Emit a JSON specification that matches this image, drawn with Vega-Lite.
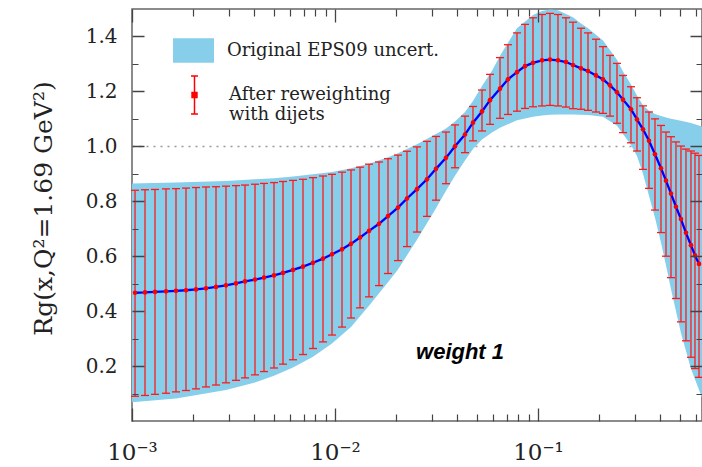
{
  "$schema": "https://vega.github.io/schema/vega-lite/v6.json",
  "width": 570,
  "height": 412,
  "autosize": {"type": "none"},
  "padding": {"left": 132, "top": 9, "right": 0, "bottom": 46},
  "background": "white",
  "config": {
    "view": {"stroke": "#666", "strokeWidth": 1.5},
    "axis": {"grid": false, "domain": false, "ticks": false, "labelFont": "DejaVu Serif", "labelColor": "#222", "titleFont": "DejaVu Serif", "titleColor": "#222"}
  },
  "data": {"values": [
      {"x": 0.001035, "c": 0.467, "hi": 0.840, "lo": 0.090},
      {"x": 0.001159, "c": 0.468, "hi": 0.842, "lo": 0.093},
      {"x": 0.001298, "c": 0.470, "hi": 0.843, "lo": 0.097},
      {"x": 0.001471, "c": 0.472, "hi": 0.845, "lo": 0.101},
      {"x": 0.001647, "c": 0.474, "hi": 0.846, "lo": 0.106},
      {"x": 0.001845, "c": 0.476, "hi": 0.848, "lo": 0.111},
      {"x": 0.002067, "c": 0.479, "hi": 0.850, "lo": 0.117},
      {"x": 0.002315, "c": 0.483, "hi": 0.852, "lo": 0.124},
      {"x": 0.002593, "c": 0.488, "hi": 0.853, "lo": 0.131},
      {"x": 0.002904, "c": 0.494, "hi": 0.855, "lo": 0.139},
      {"x": 0.003253, "c": 0.501, "hi": 0.857, "lo": 0.148},
      {"x": 0.003603, "c": 0.508, "hi": 0.859, "lo": 0.157},
      {"x": 0.004036, "c": 0.515, "hi": 0.862, "lo": 0.168},
      {"x": 0.004470, "c": 0.522, "hi": 0.865, "lo": 0.180},
      {"x": 0.005006, "c": 0.530, "hi": 0.868, "lo": 0.193},
      {"x": 0.005545, "c": 0.539, "hi": 0.872, "lo": 0.207},
      {"x": 0.006211, "c": 0.550, "hi": 0.876, "lo": 0.223},
      {"x": 0.006956, "c": 0.562, "hi": 0.880, "lo": 0.242},
      {"x": 0.007793, "c": 0.576, "hi": 0.886, "lo": 0.264},
      {"x": 0.008728, "c": 0.591, "hi": 0.892, "lo": 0.288},
      {"x": 0.009665, "c": 0.607, "hi": 0.898, "lo": 0.313},
      {"x": 0.010827, "c": 0.625, "hi": 0.906, "lo": 0.342},
      {"x": 0.011992, "c": 0.645, "hi": 0.914, "lo": 0.375},
      {"x": 0.013281, "c": 0.668, "hi": 0.924, "lo": 0.412},
      {"x": 0.014707, "c": 0.692, "hi": 0.935, "lo": 0.452},
      {"x": 0.016473, "c": 0.718, "hi": 0.943, "lo": 0.493},
      {"x": 0.018243, "c": 0.746, "hi": 0.955, "lo": 0.537},
      {"x": 0.020431, "c": 0.777, "hi": 0.968, "lo": 0.584},
      {"x": 0.022627, "c": 0.810, "hi": 0.982, "lo": 0.635},
      {"x": 0.025345, "c": 0.844, "hi": 0.998, "lo": 0.688},
      {"x": 0.028389, "c": 0.880, "hi": 1.018, "lo": 0.745},
      {"x": 0.031444, "c": 0.918, "hi": 1.036, "lo": 0.804},
      {"x": 0.035223, "c": 0.958, "hi": 1.052, "lo": 0.864},
      {"x": 0.039010, "c": 1.000, "hi": 1.078, "lo": 0.922},
      {"x": 0.043697, "c": 1.043, "hi": 1.110, "lo": 0.977},
      {"x": 0.047833, "c": 1.086, "hi": 1.145, "lo": 1.020},
      {"x": 0.052990, "c": 1.127, "hi": 1.205, "lo": 1.056},
      {"x": 0.058004, "c": 1.168, "hi": 1.262, "lo": 1.080},
      {"x": 0.065003, "c": 1.210, "hi": 1.323, "lo": 1.102},
      {"x": 0.071148, "c": 1.244, "hi": 1.370, "lo": 1.116},
      {"x": 0.078806, "c": 1.270, "hi": 1.413, "lo": 1.128},
      {"x": 0.086290, "c": 1.292, "hi": 1.444, "lo": 1.138},
      {"x": 0.094484, "c": 1.304, "hi": 1.468, "lo": 1.144},
      {"x": 0.10464, "c": 1.313, "hi": 1.480, "lo": 1.147},
      {"x": 0.11458, "c": 1.316, "hi": 1.484, "lo": 1.149},
      {"x": 0.12546, "c": 1.313, "hi": 1.480, "lo": 1.147},
      {"x": 0.13735, "c": 1.307, "hi": 1.468, "lo": 1.143},
      {"x": 0.14872, "c": 1.296, "hi": 1.452, "lo": 1.137},
      {"x": 0.16285, "c": 1.284, "hi": 1.430, "lo": 1.135},
      {"x": 0.17635, "c": 1.274, "hi": 1.413, "lo": 1.131},
      {"x": 0.19307, "c": 1.258, "hi": 1.390, "lo": 1.125},
      {"x": 0.20907, "c": 1.244, "hi": 1.363, "lo": 1.120},
      {"x": 0.22626, "c": 1.222, "hi": 1.331, "lo": 1.110},
      {"x": 0.24503, "c": 1.197, "hi": 1.302, "lo": 1.084},
      {"x": 0.26224, "c": 1.170, "hi": 1.258, "lo": 1.050},
      {"x": 0.28717, "c": 1.135, "hi": 1.217, "lo": 1.013},
      {"x": 0.30737, "c": 1.098, "hi": 1.177, "lo": 0.983},
      {"x": 0.32907, "c": 1.062, "hi": 1.147, "lo": 0.916},
      {"x": 0.35223, "c": 1.020, "hi": 1.125, "lo": 0.847},
      {"x": 0.37700, "c": 0.971, "hi": 1.100, "lo": 0.768},
      {"x": 0.40358, "c": 0.920, "hi": 1.076, "lo": 0.686},
      {"x": 0.42713, "c": 0.875, "hi": 1.052, "lo": 0.600},
      {"x": 0.45206, "c": 0.828, "hi": 1.035, "lo": 0.522},
      {"x": 0.47833, "c": 0.780, "hi": 1.016, "lo": 0.446},
      {"x": 0.50624, "c": 0.735, "hi": 1.001, "lo": 0.361},
      {"x": 0.53575, "c": 0.685, "hi": 0.990, "lo": 0.292},
      {"x": 0.56704, "c": 0.640, "hi": 0.983, "lo": 0.232},
      {"x": 0.59346, "c": 0.603, "hi": 0.975, "lo": 0.191},
      {"x": 0.62109, "c": 0.572, "hi": 0.967, "lo": 0.159}
  ]},
  "resolve": {"axis": {"x": "independent", "y": "independent"}},
  "layer": [
    {
      "data": {"values": [
        {"x": 0.001, "lo": 0.068, "hi": 0.865},
        {"x": 0.001647, "lo": 0.082, "hi": 0.868},
        {"x": 0.002904, "lo": 0.113, "hi": 0.874},
        {"x": 0.004036, "lo": 0.140, "hi": 0.880},
        {"x": 0.005006, "lo": 0.165, "hi": 0.884},
        {"x": 0.006211, "lo": 0.195, "hi": 0.890},
        {"x": 0.007793, "lo": 0.234, "hi": 0.898},
        {"x": 0.009665, "lo": 0.282, "hi": 0.907},
        {"x": 0.011992, "lo": 0.342, "hi": 0.920},
        {"x": 0.014707, "lo": 0.420, "hi": 0.937},
        {"x": 0.018243, "lo": 0.505, "hi": 0.960},
        {"x": 0.020431, "lo": 0.552, "hi": 0.975},
        {"x": 0.025345, "lo": 0.660, "hi": 1.008},
        {"x": 0.031444, "lo": 0.775, "hi": 1.045},
        {"x": 0.035223, "lo": 0.838, "hi": 1.065},
        {"x": 0.039010, "lo": 0.893, "hi": 1.090},
        {"x": 0.043697, "lo": 0.948, "hi": 1.125},
        {"x": 0.047833, "lo": 0.990, "hi": 1.165},
        {"x": 0.052990, "lo": 1.025, "hi": 1.220},
        {"x": 0.05935, "lo": 1.050, "hi": 1.275},
        {"x": 0.065003, "lo": 1.068, "hi": 1.330},
        {"x": 0.078806, "lo": 1.095, "hi": 1.430},
        {"x": 0.094484, "lo": 1.108, "hi": 1.478},
        {"x": 0.10464, "lo": 1.112, "hi": 1.493},
        {"x": 0.11458, "lo": 1.115, "hi": 1.498},
        {"x": 0.12546, "lo": 1.116, "hi": 1.495},
        {"x": 0.14872, "lo": 1.116, "hi": 1.470},
        {"x": 0.161, "lo": 1.115, "hi": 1.450},
        {"x": 0.17635, "lo": 1.114, "hi": 1.430},
        {"x": 0.20907, "lo": 1.108, "hi": 1.385},
        {"x": 0.24503, "lo": 1.075, "hi": 1.315},
        {"x": 0.26224, "lo": 1.045, "hi": 1.272},
        {"x": 0.28717, "lo": 1.005, "hi": 1.225},
        {"x": 0.30737, "lo": 0.965, "hi": 1.185},
        {"x": 0.32907, "lo": 0.900, "hi": 1.150},
        {"x": 0.35223, "lo": 0.820, "hi": 1.130},
        {"x": 0.37700, "lo": 0.740, "hi": 1.118},
        {"x": 0.40358, "lo": 0.650, "hi": 1.110},
        {"x": 0.432, "lo": 0.550, "hi": 1.104},
        {"x": 0.45206, "lo": 0.480, "hi": 1.100},
        {"x": 0.50624, "lo": 0.320, "hi": 1.093},
        {"x": 0.56704, "lo": 0.190, "hi": 1.085},
        {"x": 0.6426, "lo": 0.085, "hi": 1.072}
      ]},
      "mark": {"type": "area", "opacity": 1},
      "encoding": {
        "x": {"field": "x", "type": "quantitative", "scale": {"type": "log", "domain": [0.001, 0.6426], "nice": false},
          "axis": {"orient": "bottom", "values": [0.001, 0.01, 0.1], "grid": true, "gridColor": "#444", "gridWidth": 1.3, "gridDash": [13, 386], "zindex": 1, "labelPadding": 20, "labelFontSize": 23, "labelFlush": false, "labelOverlap": false, "labelBaseline": "top", "labelExpr": "datum.value < 0.005 ? '10⁻³' : datum.value < 0.05 ? '10⁻²' : '10⁻¹'", "title": null}},
        "y": {"field": "lo", "type": "quantitative", "scale": {"domain": [0, 1.5], "nice": false},
          "axis": {"orient": "left", "values": [0.2, 0.4, 0.6, 0.8, 1.0, 1.2, 1.4], "format": ".1f", "grid": true, "gridColor": "#444", "gridWidth": 1.3, "gridDash": [12, 546], "zindex": 1, "labelPadding": 15, "labelFontSize": 20, "labelBaseline": "middle", "labelOverlap": false, "title": "Rg(x,Q²=1.69 GeV²)", "titleFontSize": 25, "titleFontWeight": "normal", "titleX": -89, "titleY": 199, "titleAngle": -90, "titleAlign": "center", "titleBaseline": "middle"}},
        "y2": {"field": "hi"},
        "color": {"datum": "Original EPS09 uncert.", "scale": {"range": ["#87CEEB"]},
          "legend": {"orient": "none", "legendX": 41, "legendY": 21, "title": null, "padding": 0, "symbolType": "M-1,-0.6H1V0.6H-1Z", "symbolSize": 1681, "symbolStrokeWidth": 0, "symbolOpacity": 1, "labelFont": "DejaVu Serif", "labelFontSize": 18, "labelColor": "#222", "labelOffset": 13, "labelLimit": 400}}
      }
    },
    {
      "mark": {"type": "rule", "stroke": "#ff1a1a", "strokeWidth": 1.3},
      "encoding": {
        "x": {"field": "x", "type": "quantitative", "scale": {"type": "log", "domain": [0.001, 0.6426], "nice": false}, "axis": null},
        "y": {"field": "lo", "type": "quantitative", "scale": {"domain": [0, 1.5], "nice": false}, "axis": null},
        "y2": {"field": "hi"}
      }
    },
    {
      "mark": {"type": "tick", "orient": "horizontal", "color": "#ff1a1a", "size": 8, "thickness": 1.3, "opacity": 1},
      "encoding": {
        "x": {"field": "x", "type": "quantitative", "scale": {"type": "log", "domain": [0.001, 0.6426], "nice": false}, "axis": null},
        "y": {"field": "hi", "type": "quantitative", "scale": {"domain": [0, 1.5], "nice": false},
          "axis": {"orient": "left", "values": [1.0], "labels": false, "grid": true, "gridColor": "#999", "gridWidth": 1.5, "gridDash": [2, 5], "title": null}}
      }
    },
    {
      "mark": {"type": "tick", "orient": "horizontal", "color": "#ff1a1a", "size": 8, "thickness": 1.3, "opacity": 1},
      "encoding": {
        "x": {"field": "x", "type": "quantitative", "scale": {"type": "log", "domain": [0.001, 0.6426], "nice": false}, "axis": null},
        "y": {"field": "lo", "type": "quantitative", "scale": {"domain": [0, 1.5], "nice": false}, "axis": null}
      }
    },
    {
      "mark": {"type": "line", "color": "#0000ff", "strokeWidth": 2.3},
      "encoding": {
        "x": {"field": "x", "type": "quantitative", "scale": {"type": "log", "domain": [0.001, 0.6426], "nice": false},
          "axis": {"orient": "bottom", "values": [0.002, 0.003, 0.004, 0.005, 0.006, 0.007, 0.008, 0.009, 0.02, 0.03, 0.04, 0.05, 0.06, 0.07, 0.08, 0.09, 0.2, 0.3, 0.4, 0.5, 0.6], "grid": true, "gridColor": "#444", "gridWidth": 1.2, "gridDash": [7, 398], "zindex": 1, "labels": false, "title": null}},
        "y": {"field": "c", "type": "quantitative", "scale": {"domain": [0, 1.5], "nice": false},
          "axis": {"orient": "left", "values": [0.1, 0.3, 0.5, 0.7, 0.9, 1.1, 1.3], "grid": true, "gridColor": "#444", "gridWidth": 1.2, "gridDash": [6, 558], "zindex": 1, "labels": false, "title": null}}
      }
    },
    {
      "mark": {"type": "point", "filled": true, "size": 22, "opacity": 1},
      "encoding": {
        "x": {"field": "x", "type": "quantitative", "scale": {"type": "log", "domain": [0.001, 0.6426], "nice": false}, "axis": null},
        "y": {"field": "c", "type": "quantitative", "scale": {"domain": [0, 1.5], "nice": false}, "axis": null},
        "fill": {"datum": "After reweighting with dijets", "scale": {"range": ["#ff0000"]},
          "legend": {"orient": "none", "legendX": 41, "legendY": 64.5, "title": null, "padding": 0, "symbolType": "M0,-0.93V0.93M-0.17,-0.93H0.17M-0.17,0.93H0.17M-0.12,-0.12H0.12V0.12H-0.12Z", "symbolSize": 1681, "symbolFillColor": "#ff0000", "symbolStrokeColor": "#ff0000", "symbolStrokeWidth": 1.5, "symbolOpacity": 1, "labelFont": "DejaVu Serif", "labelFontSize": 18, "labelColor": "#222", "labelOffset": 13, "labelLimit": 400, "labelExpr": "['After reweighting', 'with dijets']"}}
      }
    },
    {
      "data": {"values": [{}]},
      "mark": {"type": "text", "text": "weight 1", "font": "Liberation Sans", "fontSize": 22, "fontWeight": "bold", "fontStyle": "italic", "color": "black", "align": "center", "baseline": "middle"},
      "encoding": {
        "x": {"datum": 0.0413, "type": "quantitative", "axis": null},
        "y": {"datum": 0.251, "type": "quantitative", "axis": null}
      }
    }
  ]
}
